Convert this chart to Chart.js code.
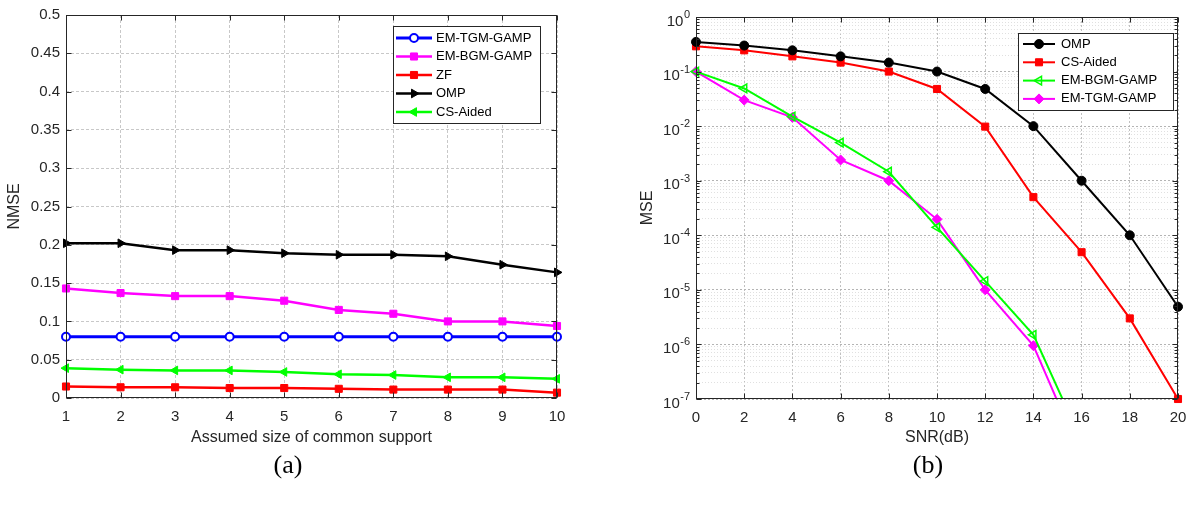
<!DOCTYPE html>
<html>
<head>
<meta charset="utf-8">
<script src="https://cdn.jsdelivr.net/npm/chart.js@4/dist/chart.umd.min.js"></script>
<style>
body { margin: 0; background: #fff; width: 1186px; height: 508px; position: relative; overflow: hidden; }
canvas { position: absolute; top: 0; }
#chartA { left: 0; }
#chartB { left: 620px; }
.cap { position: absolute; top: 452px; font: 26px/26px "Liberation Serif", "Times New Roman", serif; color: #000; transform: translateX(-50%); }
</style>
</head>
<body>
<canvas id="chartA" width="580" height="460"></canvas>
<canvas id="chartB" width="566" height="460"></canvas>
<div class="cap" style="left:288px">(a)</div>
<div class="cap" style="left:928px">(b)</div>
<script>
// (a) NMSE vs assumed size of common support
const supportSizes = [1, 2, 3, 4, 5, 6, 7, 8, 9, 10];
const nmseTgm = [0.080, 0.080, 0.080, 0.080, 0.080, 0.080, 0.080, 0.080, 0.080, 0.080];
const nmseBgm = [0.143, 0.137, 0.133, 0.133, 0.127, 0.115, 0.110, 0.100, 0.100, 0.094];
const nmseZf  = [0.015, 0.014, 0.014, 0.013, 0.013, 0.012, 0.011, 0.011, 0.011, 0.007];
const nmseOmp = [0.202, 0.202, 0.193, 0.193, 0.189, 0.187, 0.187, 0.185, 0.174, 0.164];
const nmseCs  = [0.039, 0.037, 0.036, 0.036, 0.034, 0.031, 0.030, 0.027, 0.027, 0.025];

// (b) MSE vs SNR
const snrDb  = [0, 2, 4, 6, 8, 10, 12, 14, 16, 18, 20];
const mseOmp = [0.35, 0.30, 0.245, 0.19, 0.146, 0.1, 0.048, 0.01, 1e-3, 1e-4, 4.9e-6];
const mseCs  = [0.29, 0.245, 0.19, 0.146, 0.1, 0.048, 0.0098, 5e-4, 4.9e-5, 3e-6, 1e-7];
const mseBgm = [0.1, 0.049, 0.015, 0.005, 0.00146, 1.4e-4, 1.45e-5, 1.5e-6, 1.7e-8];
const mseTgm = [0.1, 0.030, 0.0145, 0.0024, 1e-3, 1.96e-4, 1e-5, 9.5e-7, 8.7e-9];
const mseDecades = [-7, -6, -5, -4, -3, -2, -1, 0];

const FONT = '"Liberation Sans", Arial, sans-serif';
const TXT = '#262626';

function pts(xs, ys) {
    return ys.map((y, i) => ({ x: xs[i], y: y }));
}

function isPow10(v) {
    const l = Math.log10(v);
    return Math.abs(l - Math.round(l)) < 1e-9;
}

// box around the plot with inward tick marks, like matlab
const framePlugin = {
    id: 'frame',
    afterDatasetsDraw(chart) {
        const { ctx, chartArea: a, scales } = chart;
        const l = Math.round(a.left) + 0.5, r = Math.round(a.right) - 0.5;
        const t = Math.round(a.top) + 0.5, b = Math.round(a.bottom) - 0.5;
        ctx.save();
        ctx.strokeStyle = TXT;
        ctx.lineWidth = 1;
        ctx.beginPath();
        scales.x.ticks.forEach(tk => {
            const px = Math.round(scales.x.getPixelForValue(tk.value)) + 0.5;
            ctx.moveTo(px, b); ctx.lineTo(px, b - 5);
            ctx.moveTo(px, t); ctx.lineTo(px, t + 5);
        });
        scales.y.ticks.forEach(tk => {
            const py = Math.round(scales.y.getPixelForValue(tk.value)) + 0.5;
            const len = (scales.y.type === 'logarithmic' && !isPow10(tk.value)) ? 3 : 5;
            ctx.moveTo(l, py); ctx.lineTo(l + len, py);
            ctx.moveTo(r, py); ctx.lineTo(r - len, py);
        });
        ctx.stroke();
        ctx.strokeRect(l, t, r - l, b - t);
        ctx.restore();
    }
};

// legend drawn inside the plot box
const boxLegend = {
    id: 'boxLegend',
    afterDraw(chart, args, o) {
        const ctx = chart.ctx;
        ctx.save();
        ctx.fillStyle = '#fff';
        ctx.fillRect(o.x, o.y, o.w, o.h);
        ctx.strokeStyle = TXT;
        ctx.lineWidth = 1;
        ctx.strokeRect(o.x + 0.5, o.y + 0.5, o.w, o.h);
        ctx.font = '13px ' + FONT;
        ctx.textBaseline = 'middle';
        chart.data.datasets.forEach((ds, i) => {
            const cy = o.row0 + i * o.rowH;
            ctx.strokeStyle = ds.borderColor;
            ctx.lineWidth = ds.borderWidth;
            ctx.beginPath();
            ctx.moveTo(o.l0, cy);
            ctx.lineTo(o.l1, cy);
            ctx.stroke();
            ctx.fillStyle = ds.pointBackgroundColor;
            ctx.strokeStyle = ds.pointBorderColor;
            ctx.lineWidth = ds.pointBorderWidth;
            const mx = (o.l0 + o.l1) / 2;
            if (Chart.helpers && Chart.helpers.drawPoint) {
                Chart.helpers.drawPoint(ctx, {
                    pointStyle: ds.pointStyle, rotation: ds.pointRotation || 0,
                    radius: ds.pointRadius, borderWidth: ds.pointBorderWidth
                }, mx, cy);
            } else {
                ctx.beginPath();
                ctx.arc(mx, cy, ds.pointRadius, 0, Math.PI * 2);
                ctx.fill();
                ctx.stroke();
            }
            ctx.fillStyle = '#000';
            ctx.fillText(ds.label, o.tx, cy);
        });
        ctx.restore();
    }
};

// 10^n labels with a raised exponent
const powLabels = {
    id: 'powLabels',
    afterDraw(chart, args, o) {
        const ctx = chart.ctx;
        const y = chart.scales.y;
        ctx.save();
        ctx.fillStyle = TXT;
        ctx.textBaseline = 'middle';
        ctx.textAlign = 'right';
        mseDecades.forEach(e => {
            const py = y.getPixelForValue(Math.pow(10, e));
            const ex = e < 0 ? '-' + (-e) : String(e);
            ctx.font = '11px ' + FONT;
            const ew = ctx.measureText(ex).width;
            ctx.fillText(ex, o.right, py - 2);
            ctx.font = '15px ' + FONT;
            ctx.fillText('10', o.right - ew - 0.5, py + 4.5);
        });
        ctx.restore();
    }
};

function lineSet(label, data, color, style, extra) {
    return Object.assign({
        label: label,
        data: data,
        borderColor: color,
        backgroundColor: color,
        borderWidth: 2.5,
        pointStyle: style,
        pointRadius: 5,
        pointBorderWidth: 1,
        pointBorderColor: color,
        pointBackgroundColor: color,
        tension: 0,
        clip: false
    }, extra || {});
}

const tickFont = { family: FONT, size: 15 };
const titleFont = { family: FONT, size: 16 };

new Chart(document.getElementById('chartA'), {
    type: 'line',
    data: {
        datasets: [
            lineSet('EM-TGM-GAMP', pts(supportSizes, nmseTgm), '#0000ff', 'circle', { borderWidth: 3, pointRadius: 4, pointBorderWidth: 2, pointBackgroundColor: '#ffffff' }),
            lineSet('EM-BGM-GAMP', pts(supportSizes, nmseBgm), '#ff00ff', 'rect'),
            lineSet('ZF', pts(supportSizes, nmseZf), '#ff0000', 'rect'),
            lineSet('OMP', pts(supportSizes, nmseOmp), '#000000', 'triangle', { pointRotation: 90 }),
            lineSet('CS-Aided', pts(supportSizes, nmseCs), '#00ff00', 'triangle', { pointRotation: -90 })
        ]
    },
    options: {
        responsive: false,
        animation: false,
        devicePixelRatio: 1,
        layout: { padding: { top: 13, right: 23, bottom: 0, left: 0 } },
        plugins: {
            legend: { display: false },
            tooltip: { enabled: false },
            boxLegend: { x: 393, y: 26, w: 147, h: 97, row0: 38, rowH: 18.5, l0: 396, l1: 432, tx: 436 }
        },
        scales: {
            x: {
                type: 'linear', min: 1, max: 10,
                afterFit: s => { s.height = 62; },
                ticks: { stepSize: 1, padding: 10, font: tickFont, color: TXT },
                grid: { color: '#c8c8c8', lineWidth: 1, drawTicks: false },
                border: { display: false, dash: [3, 2] },
                title: { display: true, text: 'Assumed size of common support', font: titleFont, color: TXT, padding: { top: 0, bottom: 13 } }
            },
            y: {
                min: 0, max: 0.5,
                afterFit: s => { s.width = 66; },
                ticks: { stepSize: 0.05, padding: 6, font: tickFont, color: TXT, callback: v => String(parseFloat(v.toFixed(2))) },
                grid: { color: '#c8c8c8', lineWidth: 1, drawTicks: false },
                border: { display: false, dash: [3, 2] },
                title: { display: true, text: 'NMSE', font: titleFont, color: TXT, padding: { top: 5, bottom: 0 } }
            }
        }
    },
    plugins: [framePlugin, boxLegend]
});

new Chart(document.getElementById('chartB'), {
    type: 'line',
    data: {
        datasets: [
            lineSet('OMP', pts(snrDb, mseOmp), '#000000', 'circle', { borderWidth: 2, pointRadius: 4.5 }),
            lineSet('CS-Aided', pts(snrDb, mseCs), '#ff0000', 'rect', { borderWidth: 2 }),
            lineSet('EM-BGM-GAMP', pts(snrDb, mseBgm), '#00ff00', 'triangle', { borderWidth: 2, pointRotation: -90, pointBorderWidth: 1.5, pointBackgroundColor: 'rgba(255,255,255,0)', clip: { left: 10, right: 10, top: 10, bottom: 0 } }),
            lineSet('EM-TGM-GAMP', pts(snrDb, mseTgm), '#ff00ff', 'rectRot', { borderWidth: 2, clip: { left: 10, right: 10, top: 10, bottom: 0 } })
        ]
    },
    options: {
        responsive: false,
        animation: false,
        devicePixelRatio: 1,
        layout: { padding: { top: 17, right: 8, bottom: 0, left: 0 } },
        plugins: {
            legend: { display: false },
            tooltip: { enabled: false },
            boxLegend: { x: 398, y: 33, w: 155, h: 77, row0: 44, rowH: 18.3, l0: 403, l1: 435, tx: 441 },
            powLabels: { right: 70 }
        },
        scales: {
            x: {
                type: 'linear', min: 0, max: 20,
                afterFit: s => { s.height = 61; s.paddingRight = 4; s.paddingLeft = 4; },
                ticks: { stepSize: 2, padding: 10, font: tickFont, color: TXT },
                grid: { color: '#c0c0c0', lineWidth: 1, drawTicks: false },
                border: { display: false, dash: [2, 2] },
                title: { display: true, text: 'SNR(dB)', font: titleFont, color: TXT, padding: { top: 0, bottom: 13 } }
            },
            y: {
                type: 'logarithmic', min: 1e-7, max: 1,
                afterFit: s => { s.width = 76; },
                afterBuildTicks: s => {
                    const list = [];
                    for (let e = -7; e < 0; e++) {
                        for (let k = 1; k <= 9; k++) list.push({ value: k * Math.pow(10, e) });
                    }
                    list.push({ value: 1 });
                    s.ticks = list;
                },
                ticks: { autoSkip: false, font: tickFont, color: TXT, callback: () => '' },
                grid: {
                    lineWidth: 1, drawTicks: false,
                    color: c => (c.tick && isPow10(c.tick.value)) ? '#b4b4b4' : '#e0e0e0'
                },
                border: {
                    display: false,
                    dash: c => (c.tick && isPow10(c.tick.value)) ? [2, 2] : [1, 2]
                },
                title: { display: true, text: 'MSE', font: titleFont, color: TXT, padding: { top: 18, bottom: 0 } }
            }
        }
    },
    plugins: [framePlugin, boxLegend, powLabels]
});
</script>
</body>
</html>
